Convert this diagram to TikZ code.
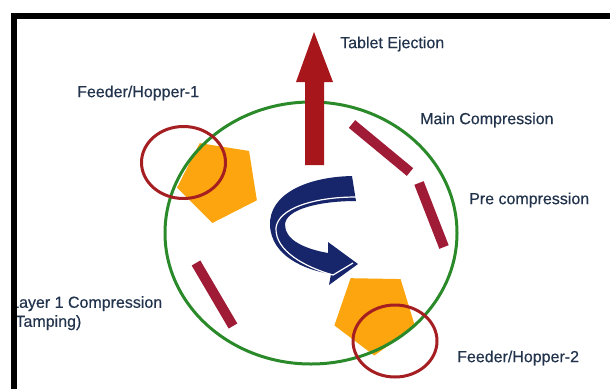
\documentclass[tikz,border=0pt]{standalone}
\usepackage{fontspec}
\setmainfont{Liberation Sans}
\newfontfamily\stagefont{Liberation Sans}[FakeBold=0.5]
\usetikzlibrary{shapes.geometric}

\definecolor{textnavy}{HTML}{22334C}
\definecolor{hopperorange}{HTML}{FCA50E}
\definecolor{ringred}{HTML}{A51E22}
\definecolor{punchred}{HTML}{A01B35}
\definecolor{ejectred}{HTML}{A6161A}
\definecolor{turretgreen}{HTML}{2A8A2A}
\definecolor{turnnavy}{HTML}{17266B}

\begin{document}
\begin{tikzpicture}[x=1pt,y=-1pt,
    stagetext/.style={anchor=west,inner sep=0pt,text=textnavy,font=\stagefont\fontsize{16}{19}\selectfont},
    hopper/.style={regular polygon,regular polygon sides=5,fill=hopperorange,inner sep=0pt,minimum size=85pt},
    ring/.style={draw=ringred,line width=3pt},
    punch/.style={draw=punchred,line width=10pt}]

    \useasboundingbox (0,0) rectangle (610,389);

    % feeders (pentagons)
    \node[hopper,rotate=27] (hop1) at (219,181) {};
    \node[hopper,rotate=35] (hop2) at (375,313) {};

    % turret
    \draw[turretgreen,line width=3pt] (311,233) ellipse [x radius=146pt, y radius=131pt];

    % compression rolls
    \draw[punch] (352,124) -- (410,172); % main
    \draw[punch] (419,183) -- (444,247); % pre
    \draw[punch] (196,263) -- (233,326); % layer 1

    % ejection arrow
    \fill[ejectred] (305,165) -- (305,82) -- (296,82) -- (314,32)
        -- (333,82) -- (324,82) -- (324,165) -- cycle;

    % rotation arrow
    \fill[turnnavy] (352,176) .. controls (305,177) and (269,195) .. (270,225)
        .. controls (271,256) and (305,270) .. (331,274)
        -- (329,285) -- (358,264) -- (328,242) -- (328,253)
        .. controls (305,249) and (285,240) .. (285,225)
        .. controls (285,209) and (320,201) .. (356,201) -- cycle;
    \draw[white,line width=1.2pt] (356,197) .. controls (315,197) and (278,208) .. (276,228)
        .. controls (275,251) and (305,267) .. (333,275) -- (353,263);

    % feeder rings
    \draw[ring] (183.5,162.5) ellipse [x radius=42pt, y radius=36pt];
    \draw[ring] (395,341) ellipse [x radius=42pt, y radius=36pt];

    % labels
    \node[stagetext] (eject) at (340,44) {Tablet Ejection};
    \node[stagetext] (feed1) at (77,93) {Feeder/Hopper-1};
    \node[stagetext] (mainc) at (420,120) {Main Compression};
    \node[stagetext] (prec) at (469,200) {Pre compression};
    \node[stagetext,anchor=north west,align=left] (layer) at (10,296) {Layer 1 Compression\\(Tamping)};
    \node[stagetext] (feed2) at (457,358) {Feeder/Hopper-2};

    % frame
    \draw[black,line width=6pt] (14,389) -- (14,16) -- (610,16);

\end{tikzpicture}
\end{document}
